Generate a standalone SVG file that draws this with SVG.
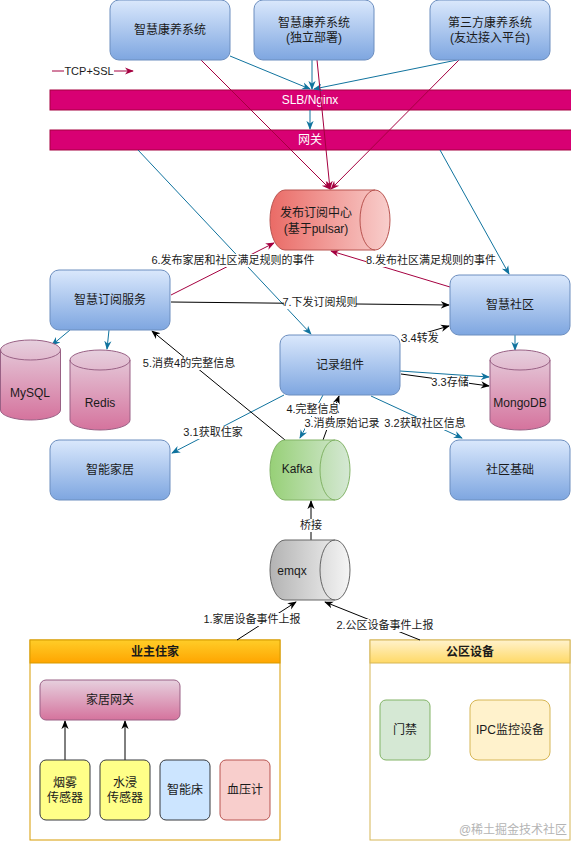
<svg xmlns="http://www.w3.org/2000/svg" width="571" height="841" viewBox="0 0 571 841">
<style>
text{font-family:"Liberation Sans","Noto Sans CJK SC",sans-serif;font-size:12px;fill:#1a1a1a;text-anchor:middle;dominant-baseline:central}
.lbl{font-size:11px}
.blue{fill:url(#gBlue);stroke:#6c8ebf}
.pink{fill:url(#gPink);stroke:#996185}
.bar{fill:#d80073;stroke:#a50040}
.wt{fill:#ffffff}
.eb{stroke:#10739e;fill:none;marker-end:url(#mB)}
.er{stroke:#a50040;fill:none;marker-end:url(#mR)}
.ek{stroke:#000;fill:none;marker-end:url(#mK)}
.lb{fill:#fff}
</style>
<defs>
<linearGradient id="gBlue" x1="0" y1="0" x2="0" y2="1"><stop offset="0" stop-color="#dae8fc"/><stop offset="1" stop-color="#7ea6e0"/></linearGradient>
<linearGradient id="gPink" x1="0" y1="0" x2="0" y2="1"><stop offset="0" stop-color="#e6d0de"/><stop offset="1" stop-color="#d5739d"/></linearGradient>
<linearGradient id="gRed" x1="0" y1="0" x2="1" y2="0"><stop offset="0" stop-color="#ea6b66"/><stop offset="1" stop-color="#f8cecc"/></linearGradient>
<linearGradient id="gGreen" x1="0" y1="0" x2="1" y2="0"><stop offset="0" stop-color="#97d077"/><stop offset="1" stop-color="#d5e8d4"/></linearGradient>
<linearGradient id="gGray" x1="0" y1="0" x2="1" y2="0"><stop offset="0" stop-color="#b3b3b3"/><stop offset="1" stop-color="#f5f5f5"/></linearGradient>
<linearGradient id="gOrange" x1="0" y1="0" x2="0" y2="1"><stop offset="0" stop-color="#ffcd28"/><stop offset="1" stop-color="#ffa500"/></linearGradient>
<linearGradient id="gYellow" x1="0" y1="0" x2="0" y2="1"><stop offset="0" stop-color="#fff2cc"/><stop offset="1" stop-color="#ffd966"/></linearGradient>
<marker id="mB" viewBox="0 0 10 10" refX="9" refY="5" markerWidth="9" markerHeight="9" orient="auto" markerUnits="userSpaceOnUse"><path d="M0,1 L10,5 L0,9 L3,5 z" fill="#10739e"/></marker>
<marker id="mR" viewBox="0 0 10 10" refX="9" refY="5" markerWidth="9" markerHeight="9" orient="auto" markerUnits="userSpaceOnUse"><path d="M0,1 L10,5 L0,9 L3,5 z" fill="#a50040"/></marker>
<marker id="mK" viewBox="0 0 10 10" refX="9" refY="5" markerWidth="9" markerHeight="9" orient="auto" markerUnits="userSpaceOnUse"><path d="M0,1 L10,5 L0,9 L3,5 z" fill="#000"/></marker>
</defs>
<rect width="571" height="841" fill="#fff"/>

<g id="containers">
<g id="home">
<rect x="30" y="640" width="250" height="200" fill="#fff" stroke="#d79b00"/>
<rect x="30" y="640" width="250" height="23" fill="url(#gOrange)" stroke="#d79b00"/>
<text x="155" y="652" font-weight="bold">业主住家</text>
</g>
<g id="public">
<rect x="370" y="640" width="200" height="200" fill="#fff" stroke="#d6b656"/>
<rect x="370" y="640" width="200" height="23" fill="url(#gYellow)" stroke="#d6b656"/>
<text x="470" y="652" font-weight="bold">公区设备</text>
</g>
</g>

<g id="bars">
<g id="slb"><rect class="bar" x="50" y="90" width="530" height="20"/><text class="wt" x="310" y="100">SLB/Nginx</text></g>
<g id="gateway"><rect class="bar" x="50" y="130" width="530" height="20"/><text class="wt" x="310" y="140">网关</text></g>
</g>

<g id="connectors" stroke-width="1">
<path class="eb" d="M230,56 L310,89"/>
<path class="eb" d="M312,60 L312,89"/>
<path class="eb" d="M457,60 L314,89"/>
<path class="eb" d="M310,110 L310,129"/>
<path class="er" d="M201,60 L330,189"/>
<path class="er" d="M317,60 L330,189"/>
<path class="er" d="M459,60 L331,189"/>
<path class="eb" d="M138,150 L311,334"/>
<path class="eb" d="M440,150 L509,274"/>
<path class="er" d="M171,295 L274,243"/>
<path class="er" d="M450,287 L331,251"/>
<path class="ek" d="M171,302 L449,305"/>
<path class="eb" d="M70,330 L52,345"/>
<path class="eb" d="M109,330 L107,349"/>
<path class="eb" d="M515,335 L515,350"/>
<path class="eb" d="M400,371 L489,377"/>
<path class="ek" d="M401,374 L489,386"/>
<path class="ek" d="M401,340 L449,326"/>
<path class="eb" d="M371,396 L462,438"/>
<path class="eb" d="M284,395 L172,453"/>
<path class="eb" d="M323,395 L300,438"/>
<path class="ek" d="M323,440 L339,396"/>
<path class="ek" d="M285,440 L152,331"/>
<path class="ek" d="M311,540 L311,501"/>
<path class="ek" d="M237,640 L296,602"/>
<path class="ek" d="M420,640 L325,602"/>
<path class="ek" d="M65,760 L65,721"/>
<path class="ek" d="M125,760 L125,721"/>
<path stroke="#a50040" d="M52,71 L64,71"/>
<path class="er" d="M114,71 L133,71"/>
</g>

<g id="labels">
<text class="lbl" x="89" y="71">TCP+SSL</text>
<rect class="lb" x="151" y="254" width="164" height="13"/><text class="lbl" x="233" y="260">6.发布家居和社区满足规则的事件</text>
<rect class="lb" x="366" y="254" width="130" height="13"/><text class="lbl" x="431" y="260">8.发布社区满足规则的事件</text>
<rect class="lb" x="284" y="296" width="72" height="13"/><text class="lbl" x="320" y="302">7.下发订阅规则</text>
<rect class="lb" x="143" y="357" width="93" height="13"/><text class="lbl" x="189" y="363">5.消费4的完整信息</text>
<rect class="lb" x="402" y="332" width="37" height="13"/><text class="lbl" x="420" y="338">3.4转发</text>
<rect class="lb" x="432" y="376" width="37" height="13"/><text class="lbl" x="450" y="382">3.3存储</text>
<rect class="lb" x="287" y="403" width="52" height="13"/><text class="lbl" x="313" y="409">4.完整信息</text>
<rect class="lb" x="305" y="417" width="73" height="13"/><text class="lbl" x="342" y="423">3.消费原始记录</text>
<rect class="lb" x="384" y="417" width="82" height="13"/><text class="lbl" x="425" y="423">3.2获取社区信息</text>
<rect class="lb" x="184" y="426" width="59" height="13"/><text class="lbl" x="213" y="432">3.1获取住家</text>
<rect class="lb" x="299" y="519" width="24" height="13"/><text class="lbl" x="311" y="525">桥接</text>
<rect class="lb" x="203" y="613" width="98" height="13"/><text class="lbl" x="252" y="619">1.家居设备事件上报</text>
<rect class="lb" x="337" y="619" width="96" height="13"/><text class="lbl" x="385" y="625">2.公区设备事件上报</text>
</g>

<g id="sys1"><rect class="blue" x="110" y="0" width="120" height="60" rx="9"/><text x="170" y="30">智慧康养系统</text></g>
<g id="sys2"><rect class="blue" x="254" y="0" width="120" height="60" rx="9"/><text x="314" y="23">智慧康养系统</text><text x="314" y="38">(独立部署)</text></g>
<g id="sys3"><rect class="blue" x="430" y="0" width="120" height="60" rx="9"/><text x="490" y="23">第三方康养系统</text><text x="490" y="38">(友达接入平台)</text></g>

<g id="pulsar">
<path d="M285,190 L375,190 A15,30 0 0 1 375,250 L285,250 A15,30 0 0 1 285,190 Z" fill="url(#gRed)" stroke="#b85450"/>
<path d="M375,190 A15,30 0 0 0 375,250" fill="none" stroke="#b85450"/>
<text x="316" y="213">发布订阅中心</text><text x="316" y="229">(基于pulsar)</text>
</g>

<g id="subsvc"><rect class="blue" x="50" y="270" width="120" height="60" rx="9"/><text x="110" y="300">智慧订阅服务</text></g>
<g id="community"><rect class="blue" x="450" y="275" width="120" height="60" rx="9"/><text x="510" y="305">智慧社区</text></g>
<g id="recorder"><rect class="blue" x="280" y="335" width="120" height="60" rx="9"/><text x="340" y="365">记录组件</text></g>
<g id="smarthome"><rect class="blue" x="50" y="440" width="120" height="60" rx="9"/><text x="110" y="470">智能家居</text></g>
<g id="commbase"><rect class="blue" x="450" y="440" width="120" height="60" rx="9"/><text x="510" y="470">社区基础</text></g>

<g id="mysql">
<path class="pink" d="M0.5,350 A30,10 0 0 1 60.5,350 L60.5,410 A30,10 0 0 1 0.5,410 Z"/>
<path d="M0.5,350 A30,10 0 0 0 60.5,350" fill="none" stroke="#996185"/>
<text x="30" y="393">MySQL</text>
</g>
<g id="redis">
<path class="pink" d="M70,360 A30,10 0 0 1 130,360 L130,420 A30,10 0 0 1 70,420 Z"/>
<path d="M70,360 A30,10 0 0 0 130,360" fill="none" stroke="#996185"/>
<text x="100" y="403">Redis</text>
</g>
<g id="mongodb">
<path class="pink" d="M490,360 A30,10 0 0 1 550,360 L550,420 A30,10 0 0 1 490,420 Z"/>
<path d="M490,360 A30,10 0 0 0 550,360" fill="none" stroke="#996185"/>
<text x="520" y="403">MongoDB</text>
</g>

<g id="kafka">
<path d="M285,440 L335,440 A15,30 0 0 1 335,500 L285,500 A15,30 0 0 1 285,440 Z" fill="url(#gGreen)" stroke="#82b366"/>
<path d="M335,440 A15,30 0 0 0 335,500" fill="none" stroke="#82b366"/>
<text x="297" y="469">Kafka</text>
</g>
<g id="emqx">
<path d="M285,540 L335,540 A15,30 0 0 1 335,600 L285,600 A15,30 0 0 1 285,540 Z" fill="url(#gGray)" stroke="#666666"/>
<path d="M335,540 A15,30 0 0 0 335,600" fill="none" stroke="#666666"/>
<text x="292" y="571">emqx</text>
</g>

<g id="homegw"><rect class="pink" x="40" y="680" width="140" height="40" rx="6"/><text x="110" y="700">家居网关</text></g>
<g id="smoke"><rect x="40" y="760" width="50" height="60" rx="6" fill="#ffff88" stroke="#36393d"/><text x="65" y="783">烟雾</text><text x="65" y="798">传感器</text></g>
<g id="water"><rect x="100" y="760" width="50" height="60" rx="6" fill="#ffff88" stroke="#36393d"/><text x="125" y="783">水浸</text><text x="125" y="798">传感器</text></g>
<g id="bed"><rect x="160" y="760" width="50" height="60" rx="6" fill="#cce5ff" stroke="#36393d"/><text x="185" y="790">智能床</text></g>
<g id="bp"><rect x="220" y="760" width="50" height="60" rx="6" fill="#f8cecc" stroke="#b85450"/><text x="245" y="790">血压计</text></g>
<g id="door"><rect x="380" y="700" width="50" height="60" rx="6" fill="#d5e8d4" stroke="#82b366"/><text x="405" y="730">门禁</text></g>
<g id="ipc"><rect x="470" y="700" width="80" height="60" rx="8" fill="#fff2cc" stroke="#d6b656"/><text x="510" y="730">IPC监控设备</text></g>

<text x="513" y="830" style="fill:#b4b4b4;font-size:12px">@稀土掘金技术社区</text>
</svg>
